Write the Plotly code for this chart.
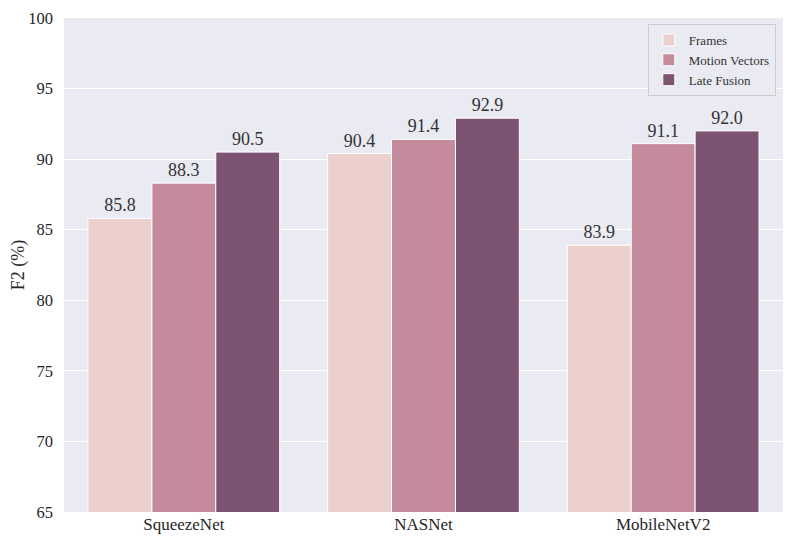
import plotly.graph_objects as go

# model names and F2 scores per input type
models = ["SqueezeNet", "NASNet", "MobileNetV2"]
frames = [85.8, 90.4, 83.9]
motion_vectors = [88.3, 91.4, 91.1]
late_fusion = [90.5, 92.9, 92.0]

series = [
    ("Frames", frames, "#ebd0ce"),
    ("Motion Vectors", motion_vectors, "#c48b9c"),
    ("Late Fusion", late_fusion, "#7d5372"),
]

SERIF = "Liberation Serif"

fig = go.Figure()
for name, values, color in series:
    fig.add_trace(
        go.Bar(
            x=models,
            y=values,
            name=name,
            marker=dict(color=color, line=dict(color="white", width=1)),
            text=[f"{v:.1f}" for v in values],
            textposition="outside",
            textfont=dict(family=SERIF, size=18, color="#333333"),
            cliponaxis=False,
        )
    )

fig.update_layout(
    width=794,
    height=553,
    barmode="group",
    bargap=0.2,
    bargroupgap=0,
    plot_bgcolor="#eaeaf2",
    paper_bgcolor="white",
    font=dict(family=SERIF, size=17, color="#262626"),
    margin=dict(l=56, r=19, t=10, b=49),
    legend=dict(
        x=0.99,
        y=0.988,
        xanchor="right",
        yanchor="top",
        bgcolor="#eaeaf2",
        bordercolor="#cccccc",
        borderwidth=1,
        font=dict(family=SERIF, size=13, color="#333333"),
        tracegroupgap=0,
    ),
    showlegend=True,
)
fig.update_xaxes(showgrid=False, ticks="", tickfont=dict(family=SERIF, size=17))
fig.update_yaxes(
    range=[65, 100],
    dtick=5,
    gridcolor="white",
    gridwidth=1,
    zeroline=False,
    ticks="",
    automargin=False,
    ticklabelstandoff=10,
    tickfont=dict(family=SERIF, size=16.5),
    title=dict(text="F2 (%)", font=dict(family=SERIF, size=18), standoff=10),
)

fig.write_html("out.html")
